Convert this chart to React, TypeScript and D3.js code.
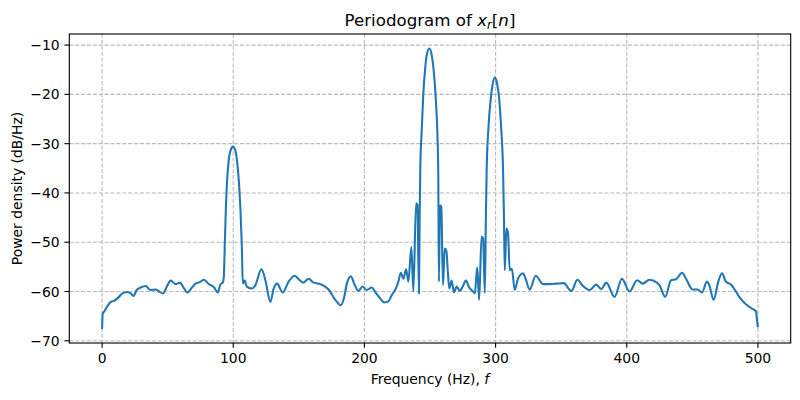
import React from "react";
import * as d3 from "d3";

// Frequency samples (Hz) and periodogram values (dB/Hz)
const freqHz: number[] = [
  0, 0.5, 1.5, 4, 6.6, 9.1, 11.7, 15.5, 19.3, 21.8, 23.9, 26.4, 29.4, 33.2, 37, 40.8, 43.4, 46.4, 49.2, 52.3,
  56, 59.3, 61.9, 64.9, 68.8, 71.3, 74.5, 77.6, 81.4, 85.2, 88.2, 90.3, 92.0, 92.8, 93.6, 94.4, 95.3, 96.5, 98, 99.8,
  101.6, 103, 104.3, 105.5, 106.5, 107.3, 108.8, 110.3, 114.4, 116.9, 121.5, 124.5, 128.3, 130.8, 133.4, 137.7, 142.2, 146.8, 150.6, 153.2,
  157.5, 161.2, 165, 170, 172.7, 177.8, 182, 184.6, 186.6, 189.7, 192.2, 195.5, 198.5, 201.8, 205.6, 208.7, 212, 215, 218.3, 220.9,
  223.4, 225.9, 227.7, 229.7, 231.8, 233.5, 235.8, 237.3, 239.4, 240.4, 241.6, 242.1, 242.6, 243.7, 244.9, 246.2, 247.5, 249.5, 251.3, 253,
  254.6, 255.8, 256.3, 256.8, 257.6, 258.6, 259.9, 261.2, 262.5, 263.6, 264.7, 266.5, 268.3, 270.3, 272.8, 274.9, 277.4, 279.9, 282.5, 284.2,
  286, 287.5, 289.3, 290.5, 291.8, 292.6, 293.2, 294.6, 296.2, 297.7, 299.4, 301.2, 302.7, 304.2, 305.7, 306.4, 307, 308.3, 309.5, 310.8,
  312.4, 314.6, 317.1, 320.9, 323, 326, 330.6, 336.2, 341.3, 346.4, 351.9, 357.8, 362.4, 366.6, 371.7, 376.8, 380.6, 384.4, 390.7, 396.3,
  402.1, 407.9, 412.2, 417.3, 422.9, 424.9, 429.3, 433.8, 437.6, 442.2, 445.2, 450.2, 454, 457.4, 461.1, 462.9, 466.2, 469.8, 472.6, 475.6,
  479.4, 482.5, 485.8, 489.6, 493.4, 496.4, 498.5, 499.2, 500,
];

const powerDb: number[] = [
  -67.6, -64.5, -64.1, -63.0, -62.1, -61.9, -61.4, -60.4, -60.1, -60.4, -60.9, -59.7, -59.2, -58.9, -59.7, -59.6, -60.0, -60.4, -59.1, -57.8,
  -58.5, -58.2, -59.1, -60.2, -59.1, -58.4, -58.1, -57.6, -58.5, -59.1, -60.2, -58.5, -58.2, -57.0, -50, -43, -37.5, -33.5, -31.3, -30.6,
  -31.4, -33.8, -37.8, -43.5, -50.5, -58.4, -57.8, -59.0, -59.4, -58.7, -55.5, -57.7, -62.1, -59.4, -58.4, -60.2, -58.0, -56.8, -57.7, -58.2,
  -57.4, -58.2, -58.4, -59.0, -59.6, -61.7, -62.8, -61.1, -58.4, -56.9, -58.4, -59.9, -59.0, -59.7, -59.2, -60.3, -61.4, -62.2, -62.0, -60.7,
  -59.7, -58.0, -56.2, -57.4, -55.5, -58.0, -51.0, -60.0, -42.1, -42.4, -60.4, -45, -35, -27.2, -19.8, -15.1, -12.0, -10.7, -12.0, -15.7,
  -21.8, -29.3, -36, -58.0, -42.5, -42.8, -58.7, -51.3, -51.8, -56, -59.4, -57.8, -60.2, -59.0, -59.9, -59.0, -57.8, -59.2, -59.9, -60.4,
  -55.1, -61.7, -48.9, -49.2, -60.3, -45, -35.4, -26.6, -21.2, -18.1, -16.6, -17.9, -20.8, -26.6, -35.4, -45, -55.7, -47.2, -48.2, -55.7,
  -55.4, -59.7, -57.4, -56.3, -57.5, -59.6, -56.8, -58.5, -58.5, -58.4, -58.3, -59.9, -57.6, -58.9, -59.7, -58.6, -59.5, -58.2, -61.1, -57.4,
  -60.0, -57.7, -58.4, -57.6, -58.2, -58.7, -61.1, -57.7, -57.5, -56.2, -57.4, -59.6, -59.6, -60.2, -58.0, -58.7, -61.7, -58.0, -56.3, -58.0,
  -58.6, -59.7, -61.1, -62.3, -63.1, -63.6, -64.0, -65.5, -67.3,
];

const xTicks: number[] = [0, 100, 200, 300, 400, 500];
const yTicks: number[] = [-70, -60, -50, -40, -30, -20, -10];

const W = 800;
const H = 400;
const LEFT = 69.3;
const RIGHT = 790.7;
const TOP = 34;
const BOTTOM = 343;

const fmt = (v: number) => String(v).replace("-", "\u2212");

export default function App() {
  const x = d3.scaleLinear().domain([-25, 525]).range([LEFT, RIGHT]);
  const y = d3.scaleLinear().domain([-70.45, -7.75]).range([BOTTOM, TOP]);

  const pts: [number, number][] = freqHz.map((f, i) => [f, powerDb[i]]);
  const line = d3
    .line<[number, number]>()
    .x((d) => x(d[0]))
    .y((d) => y(d[1]))
    .curve(d3.curveMonotoneX);

  const font = "'DejaVu Sans', sans-serif";
  const tickLen = 4.86;
  const gridColor = "#b0b0b0";

  return (
    <svg
      width={W}
      height={H}
      viewBox={`0 0 ${W} ${H}`}
      style={{ position: "absolute", left: 0, top: 0, background: "#fff" }}
      fontFamily={font}
    >
      <rect x={0} y={0} width={W} height={H} fill="#fff" />
      <defs>
        <clipPath id="plotClip">
          <rect x={LEFT} y={TOP} width={RIGHT - LEFT} height={BOTTOM - TOP} />
        </clipPath>
      </defs>

      {/* grid */}
      <g stroke={gridColor} strokeWidth={1.11} strokeDasharray="4.1,1.78" opacity={0.85}>
        {xTicks.map((t) => (
          <line key={"gx" + t} x1={x(t)} x2={x(t)} y1={TOP} y2={BOTTOM} />
        ))}
        {yTicks.map((t) => (
          <line key={"gy" + t} x1={LEFT} x2={RIGHT} y1={y(t)} y2={y(t)} />
        ))}
      </g>

      {/* data line */}
      <path
        d={line(pts) || ""}
        fill="none"
        stroke="#1f77b4"
        strokeWidth={2.08}
        strokeLinejoin="round"
        clipPath="url(#plotClip)"
      />

      {/* spines */}
      <rect
        x={LEFT}
        y={TOP}
        width={RIGHT - LEFT}
        height={BOTTOM - TOP}
        fill="none"
        stroke="#000"
        strokeWidth={1.11}
      />

      {/* x ticks */}
      {xTicks.map((t) => (
        <g key={"xt" + t}>
          <line x1={x(t)} x2={x(t)} y1={BOTTOM} y2={BOTTOM + tickLen} stroke="#000" strokeWidth={1.11} />
          <text x={x(t)} y={BOTTOM + tickLen + 15.5} fontSize={13.9} textAnchor="middle" fill="#000">
            {fmt(t)}
          </text>
        </g>
      ))}

      {/* y ticks */}
      {yTicks.map((t) => (
        <g key={"yt" + t}>
          <line x1={LEFT - tickLen} x2={LEFT} y1={y(t)} y2={y(t)} stroke="#000" strokeWidth={1.11} />
          <text
            x={LEFT - tickLen - 4.86}
            y={y(t)}
            dy="0.36em"
            fontSize={13.9}
            textAnchor="end"
            fill="#000"
          >
            {fmt(t)}
          </text>
        </g>
      ))}

      {/* axis labels */}
      <text x={(LEFT + RIGHT) / 2} y={384} fontSize={13.9} textAnchor="middle" fill="#000">
        Frequency (Hz),{" "}
        <tspan fontStyle="italic">f</tspan>
      </text>
      <text
        transform={`translate(21.5, ${(TOP + BOTTOM) / 2}) rotate(-90)`}
        fontSize={13.9}
        textAnchor="middle"
        fill="#000"
      >
        Power density (dB/Hz)
      </text>

      {/* title */}
      <text x={(LEFT + RIGHT) / 2} y={26} fontSize={16.67} textAnchor="middle" fill="#000">
        Periodogram of <tspan fontStyle="italic">x</tspan>
        <tspan fontStyle="italic" fontSize={11.7} dy={3}>r</tspan>
        <tspan dy={-3}>[</tspan>
        <tspan fontStyle="italic">n</tspan>
        <tspan>]</tspan>
      </text>
    </svg>
  );
}
